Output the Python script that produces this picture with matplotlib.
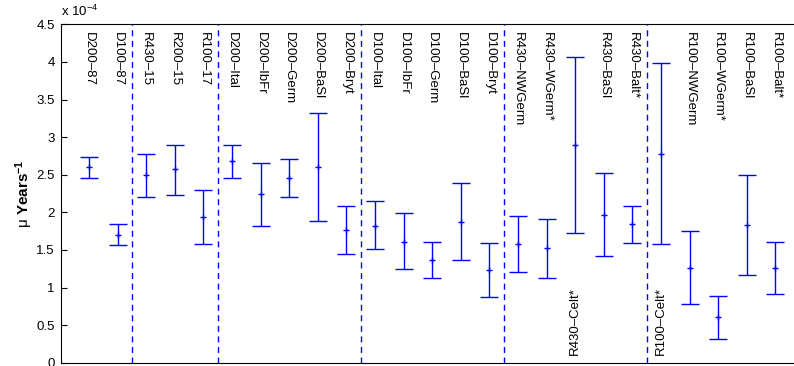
import numpy as np
import matplotlib
matplotlib.use('Agg')
import matplotlib.pyplot as plt

plt.rcParams['font.family'] = ['Liberation Sans', 'DejaVu Sans']
plt.rcParams['mathtext.fontset'] = 'custom'
plt.rcParams['mathtext.rm'] = 'Liberation Sans'
plt.rcParams['mathtext.bf'] = 'Liberation Sans:bold'

# values in units of 1e-4
names = ['D200–87', 'D100–87', 'R430–15', 'R200–15', 'R100–17',
         'D200–Ital', 'D200–IbFr', 'D200–Germ', 'D200–BaSl', 'D200–Bryt',
         'D100–Ital', 'D100–IbFr', 'D100–Germ', 'D100–BaSl', 'D100–Bryt',
         'R430–NWGerm', 'R430–WGerm*', 'R430–Celt*', 'R430–BaSl', 'R430–Balt*',
         'R100–Celt*', 'R100–NWGerm', 'R100–WGerm*', 'R100–BaSl', 'R100–Balt*']
mean = [2.60, 1.70, 2.49, 2.57, 1.94,
        2.68, 2.24, 2.46, 2.60, 1.76,
        1.82, 1.61, 1.36, 1.875, 1.23,
        1.575, 1.52, 2.89, 1.97, 1.84,
        2.77, 1.26, 0.61, 1.83, 1.26]
upper = [2.74, 1.84, 2.77, 2.90, 2.30,
         2.895, 2.66, 2.71, 3.32, 2.08,
         2.15, 1.99, 1.60, 2.39, 1.59,
         1.955, 1.91, 4.06, 2.52, 2.09,
         3.98, 1.75, 0.89, 2.49, 1.61]
lower = [2.46, 1.56, 2.21, 2.23, 1.58,
         2.456, 1.82, 2.20, 1.88, 1.44,
         1.51, 1.24, 1.13, 1.36, 0.87,
         1.21, 1.13, 1.73, 1.42, 1.59,
         1.575, 0.78, 0.32, 1.17, 0.91]
low_labels = ['R430–Celt*', 'R100–Celt*']
separators = [2.5, 5.5, 10.5, 15.5, 20.5]

x = np.arange(1, len(names) + 1)
mean = np.array(mean)
err = [mean - np.array(lower), np.array(upper) - mean]

fig = plt.figure(figsize=(7.94, 3.66), dpi=100)
ax = fig.add_axes([0.0762, 0.009, 0.9365, 0.9246])

ax.errorbar(x, mean, yerr=err, fmt='+', color='#0000ff', ecolor='#0000ff',
            elinewidth=1.0, capsize=6.5, capthick=1.0, markersize=5)

for s in separators:
    ax.axvline(s, color='#0000ff', lw=1.0, dashes=(4.3, 3.3))

for xi, n in zip(x, names):
    if n in low_labels:
        ax.text(xi, 0.1, n, rotation=90, ha='center', va='bottom', fontsize=9.5)
    else:
        ax.text(xi, 4.4, n, rotation=-90, ha='center', va='top', fontsize=9.5)

ax.set_xlim(0, 26)
ax.set_ylim(0, 4.5)
ax.set_xticks([])
ax.set_yticks(np.arange(0, 4.51, 0.5))
ax.set_yticklabels(['0', '0.5', '1', '1.5', '2', '2.5', '3', '3.5', '4', '4.5'])
ax.tick_params(axis='y', direction='in', length=4, labelsize=9.5, pad=4)
ax.set_ylabel(r'μ $\mathbf{Years^{-1}}$', fontsize=11, labelpad=1)
fig.text(0.0762, 0.948, r'x 10$^{-4}$', fontsize=9.5, ha='left', va='bottom')

fig.savefig('out.png', dpi=100)
